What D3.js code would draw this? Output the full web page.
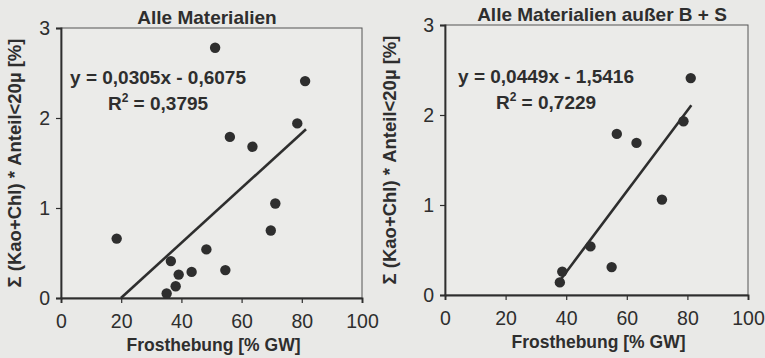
<!DOCTYPE html>
<html><head><meta charset="utf-8">
<script src="https://cdn.jsdelivr.net/npm/d3@7"></script>
<style>
html,body{margin:0;padding:0;background:#e9e9e7;}
svg{display:block;}
</style></head>
<body>
<svg id="c" width="765" height="358"></svg>
<script>
// ---- data ----
const titles = ["Alle Materialien", "Alle Materialien außer B + S"];
const xAll = [18.5, 51.2, 81.1, 78.5, 56.1, 63.6, 71.2, 69.7, 48.3, 36.5, 54.6, 43.4, 39.1, 38.1, 35.1];
const yAll = [0.66, 2.78, 2.41, 1.94, 1.79, 1.68, 1.05, 0.75, 0.54, 0.41, 0.31, 0.29, 0.26, 0.13, 0.05];
const xSub = [81.1, 78.7, 56.7, 63.2, 71.6, 48.0, 55.0, 38.7, 37.9];
const ySub = [2.41, 1.93, 1.79, 1.69, 1.06, 0.54, 0.31, 0.26, 0.14];
const slopes = [0.0305, 0.0449];
const intercepts = [-0.6075, -1.5416];
const lineXStart = [19.92, 37.8];
const lineXEnd = [81.4, 81.3];
const eqLabels = ["y = 0,0305x - 0,6075", "y = 0,0449x - 1,5416"];
const r2Labels = ["0,3795", "0,7229"];
const xTicks = [0, 20, 40, 60, 80, 100];
const yTicks = [0, 1, 2, 3];
const xTitle = "Frosthebung [% GW]";
const yTitle = "Σ (Kao+Chl) * Anteil<20µ [%]";

const svg = d3.select("#c");
const ink = "#2e2e2e";
const font = "'Liberation Sans', Arial, sans-serif";

const panels = [
  {x0: 61, x1: 362, y0: 298, y1: 28, xs: xAll, ys: yAll, titleX: 207, titleY: 24, ytX: 21,
   eqX: 158, eqY: 84, r2X: 158, r2Y: 110},
  {x0: 445, x1: 748, y0: 295, y1: 25, xs: xSub, ys: ySub, titleX: 602, titleY: 21, ytX: 396,
   eqX: 546, eqY: 83, r2X: 546, r2Y: 109}
];

panels.forEach((p, i) => {
  const g = svg.append("g");
  const x = d3.scaleLinear().domain([0, 100]).range([p.x0, p.x1]);
  const y = d3.scaleLinear().domain([0, 3]).range([p.y0, p.y1]);

  // plot frame
  g.append("rect").attr("x", p.x0).attr("y", p.y1)
    .attr("width", p.x1 - p.x0).attr("height", p.y0 - p.y1)
    .attr("fill", "#ebebe9").attr("stroke", "#555").attr("stroke-width", 1);

  // axes
  const xa = g.append("g").attr("transform", `translate(0,${p.y0})`)
    .call(d3.axisBottom(x).tickValues(xTicks).tickSize(5).tickFormat(d3.format("d")));
  const ya = g.append("g").attr("transform", `translate(${p.x0},0)`)
    .call(d3.axisLeft(y).tickValues(yTicks).tickSize(5).tickFormat(d3.format("d")));
  [xa, ya].forEach(a => {
    a.select(".domain").attr("stroke", ink).attr("stroke-width", 1.8);
    a.selectAll(".tick line").attr("stroke", ink).attr("stroke-width", 1.2);
    a.selectAll(".tick text").attr("fill", ink).attr("font-family", font).attr("font-size", 19.5);
  });
  xa.selectAll(".tick text").attr("y", 0).attr("dy", 0).attr("transform", "translate(0,30)");
  ya.selectAll(".tick text").attr("x", -11).attr("dy", "0.35em");

  // regression line
  const f = v => slopes[i] * v + intercepts[i];
  g.append("line")
    .attr("x1", x(lineXStart[i])).attr("y1", y(f(lineXStart[i])))
    .attr("x2", x(lineXEnd[i])).attr("y2", y(f(lineXEnd[i])))
    .attr("stroke", ink).attr("stroke-width", 2.6);

  // points
  g.selectAll("circle.pt").data(p.xs.map((v, k) => [v, p.ys[k]])).enter()
    .append("circle").attr("class", "pt")
    .attr("cx", d => x(d[0])).attr("cy", d => y(d[1])).attr("r", 5.2)
    .attr("fill", ink);

  // title
  g.append("text").attr("x", p.titleX).attr("y", p.titleY).attr("text-anchor", "middle")
    .attr("font-family", font).attr("font-weight", "bold").attr("font-size", 19)
    .attr("fill", ink).text(titles[i]);

  // equation
  g.append("text").attr("x", p.eqX).attr("y", p.eqY).attr("text-anchor", "middle")
    .attr("font-family", font).attr("font-weight", "bold").attr("font-size", 19)
    .attr("fill", ink).text(eqLabels[i]);
  const r2 = g.append("text").attr("x", p.r2X).attr("y", p.r2Y).attr("text-anchor", "middle")
    .attr("font-family", font).attr("font-weight", "bold").attr("font-size", 19)
    .attr("fill", ink);
  r2.append("tspan").text("R");
  r2.append("tspan").attr("dy", -8).attr("font-size", 12).text("2");
  r2.append("tspan").attr("dy", 8).text(" = " + r2Labels[i]);

  // axis titles
  g.append("text").attr("x", (p.x0 + p.x1) / 2 + 2).attr("y", p.y0 + 53).attr("text-anchor", "middle")
    .attr("font-family", font).attr("font-weight", "bold").attr("font-size", 17.5)
    .attr("fill", ink).text(xTitle);
  g.append("text").attr("transform", `translate(${p.ytX},${(p.y0 + p.y1) / 2}) rotate(-90)`)
    .attr("text-anchor", "middle")
    .attr("font-family", font).attr("font-weight", "bold").attr("font-size", 18.5)
    .attr("fill", ink).text(yTitle);
});
</script>
</body></html>
